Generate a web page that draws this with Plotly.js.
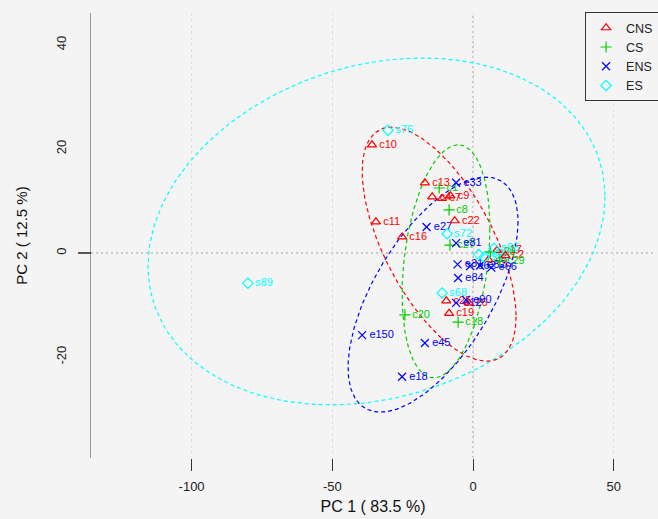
<!DOCTYPE html>
<html>
<head>
<meta charset="utf-8">
<script src="https://cdn.plot.ly/plotly-3.0.1.min.js"></script>
<style>
  html, body { margin: 0; padding: 0; background: #f4f4f4; }
  #chart { width: 658px; height: 519px; }
</style>
</head>
<body>
<div id="chart"></div>
<script>
// PCA score plot: four sample groups with their confidence ellipses.
const groupNames = ['CNS', 'CS', 'ENS', 'ES'];
const groupColors = ['#FF0000', '#00CD00', '#0000FF', '#00FFFF'];
const groupSymbols = ['triangle-up-open', 'cross-thin-open', 'x-thin-open', 'diamond-open'];

// CNS scores
const cnsPc1 = [-35.9, -34.5, -25.2, -17.1, -14.5, -11.0, -8.0, -6.5, 8.5, 11.5, 5.5, -9.5, -1.5, -8.5];
const cnsPc2 = [20.8, 6.0, 3.1, 13.5, 10.8, 10.5, 11.0, 6.2, 0.5, -0.5, -1.3, -9.2, -9.6, -11.6];
const cnsLabels = ['c10', 'c11', 'c16', 'c13', 'c4', 'c7', 'c9', 'c22', 'c17', 'c2', 'c5', 'c25', 'c6', 'c19'];

// CS scores
const csPc1 = [-12.0, -8.5, -8.2, 6.2, 9.5, -24.2, -5.3];
const csPc2 = [12.5, 8.3, 1.5, 0.2, -1.6, -11.9, -13.3];
const csLabels = ['c1', 'c8', 'c27', 'c28', 'c29', 'c20', 'c18'];

// ENS scores
const ensPc1 = [-39.4, -17.1, -25.2, -16.5, -6.0, -5.5, -5.3, -6.0, 2.5, 6.5, -6.0, -2.5, -1.0];
const ensPc2 = [-15.8, -17.3, -23.8, 5.0, 1.9, -2.2, -4.8, 13.5, -2.4, -2.8, -9.6, -9.0, -2.5];
const ensLabels = ['e150', 'e45', 'e18', 'e27', 'e81', 'e31', 'e84', 'e33', 'e52', 'e66', 'e12', 'e90', 'e62'];

// ES scores
const esPc1 = [-30.2, -80.0, -11.0, -9.2, 4.0, 7.5, 2.0];
const esPc2 = [23.6, -5.8, -7.7, 3.7, -0.8, 0.9, -0.3];
const esLabels = ['s76', 's89', 's68', 's72', 's80', 's85', 's60'];

// Ellipse parameters per group: centre, half-extent along PC1 and PC2, correlation
const ellCenterX = [-12.05, -9.6, -14.2, -34.3];
const ellCenterY = [1.7, -1.6, -8.0, 4.15];
const ellHalfX = [27.35, 15.6, 30.2, 81.2];
const ellHalfY = [22.5, 22.4, 22.6, 33.35];
const ellRho = [-0.62, 0.28, 0.62, 0.2];

const xTicks = [-100, -50, 0, 50];
const yTicks = [-20, 0, 20, 40];

const pc1 = [cnsPc1, csPc1, ensPc1, esPc1];
const pc2 = [cnsPc2, csPc2, ensPc2, esPc2];
const labels = [cnsLabels, csLabels, ensLabels, esLabels];

function ellipse(i) {
  const phi = Math.acos(ellRho[i]);
  const xs = [], ys = [];
  const n = 200;
  for (let k = 0; k <= n; k++) {
    const t = 2 * Math.PI * k / n;
    xs.push(ellCenterX[i] + ellHalfX[i] * Math.cos(t));
    ys.push(ellCenterY[i] + ellHalfY[i] * Math.cos(t + phi));
  }
  return { x: xs, y: ys };
}

const traces = [];
// ellipses underneath
[3, 0, 1, 2].forEach(i => {
  const e = ellipse(i);
  traces.push({
    x: e.x, y: e.y, type: 'scatter', mode: 'lines',
    line: { color: groupColors[i], width: 1.2, dash: '4px,3px' },
    showlegend: false, hoverinfo: 'skip'
  });
});
// sample labels
groupNames.forEach((g, i) => {
  traces.push({
    x: pc1[i], y: pc2[i], text: labels[i], type: 'scatter', mode: 'markers+text',
    marker: { size: 10, color: 'rgba(0,0,0,0)' },
    textposition: 'middle right',
    textfont: { family: 'Liberation Sans, Arial, sans-serif', size: 11, color: groupColors[i] },
    showlegend: false, hoverinfo: 'skip'
  });
});
// sample markers
groupNames.forEach((g, i) => {
  traces.push({
    x: pc1[i], y: pc2[i], name: g, type: 'scatter', mode: 'markers',
    marker: { symbol: groupSymbols[i], size: 8, color: groupColors[i], line: { width: 1.2, color: groupColors[i] } }
  });
});

const layout = {
  width: 658, height: 519,
  paper_bgcolor: '#f4f4f4', plot_bgcolor: '#f4f4f4',
  margin: { l: 91, r: 3, t: 13, b: 61, autoexpand: false },
  font: { family: 'Liberation Sans, Arial, sans-serif', color: '#222' },
  showlegend: true,
  legend: {
    x: 0.876, y: 1.002, xanchor: 'left', yanchor: 'top',
    bgcolor: '#f4f4f4', bordercolor: '#333', borderwidth: 1,
    font: { size: 12.5, color: '#222' }, tracegroupgap: 0
  },
  xaxis: {
    range: [-135.75, 64.67], tickvals: xTicks, ticktext: xTicks.map(String),
    ticks: 'outside', ticklen: 12, tickcolor: '#333', tickwidth: 1,
    showline: false, zeroline: false,
    showgrid: true, gridcolor: '#dedede', griddash: 'dot', gridwidth: 1,
    tickfont: { size: 13, color: '#222' }, ticklabelstandoff: 4,
    title: { text: 'PC 1 ( 83.5 %)', font: { size: 16, color: '#111' }, standoff: 8 },
    automargin: false, fixedrange: true
  },
  yaxis: {
    range: [-39.42, 46.15], tickvals: yTicks, ticktext: yTicks.map(String),
    ticks: '', showline: true, linecolor: '#999', linewidth: 1,
    zeroline: false, showgrid: false, tickangle: -90,
    tickfont: { size: 13, color: '#222' }, ticklabelstandoff: 19,
    title: { text: 'PC 2 ( 12.5 %)', font: { size: 15, color: '#111' }, standoff: 22 },
    automargin: false, fixedrange: true
  },
  shapes: [
    { type: 'line', xref: 'paper', yref: 'y', x0: 0, x1: 1, y0: 0, y1: 0,
      line: { color: '#a0a0a0', width: 1, dash: '2px,3px' }, layer: 'below' },
    { type: 'line', xref: 'x', yref: 'paper', x0: 0, x1: 0, y0: 0, y1: 1,
      line: { color: '#a0a0a0', width: 1, dash: '2px,3px' }, layer: 'below' },
    { type: 'line', xref: 'paper', yref: 'y', x0: -0.023, x1: 0, y0: 0, y1: 0,
      line: { color: '#222', width: 1.5 } }
  ]
};

Plotly.newPlot('chart', traces, layout, { displayModeBar: false, staticPlot: true });
</script>
</body>
</html>
